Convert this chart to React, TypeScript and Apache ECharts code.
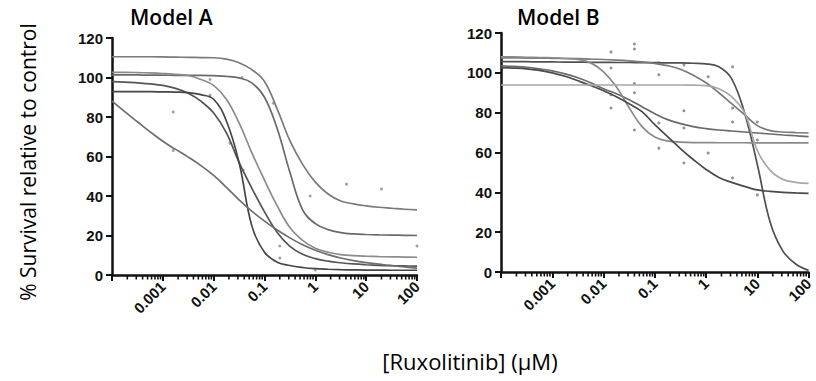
import React, { useEffect, useRef } from "react";
import * as echarts from "echarts";

// Concentrations (µM) at which the fitted curves were read: quarter-decade steps 1e-4 .. 1e2
const conc = [
  0.0001, 0.000178, 0.000316, 0.000562, 0.001, 0.00178, 0.00316, 0.00562, 0.01, 0.0178, 0.0316, 0.0562,
  0.1, 0.178, 0.316, 0.562, 1, 1.78, 3.16, 5.62, 10, 17.8, 31.6, 56.2, 100,
];

// Model A fitted curves (% survival)
const a1 = [110.5, 110.5, 110.5, 110.5, 110.4, 110.3, 110.2, 110.1, 110, 109.3, 107.5, 104, 98, 84, 68, 56, 47, 41, 37.5, 36, 35, 34.3, 33.8, 33.3, 33];
const a2 = [101.3, 101.3, 101.3, 101.2, 101.2, 101.1, 101.1, 101.1, 100.9, 100.6, 99.8, 97.3, 90, 74, 52, 33, 26, 23, 21.5, 20.8, 20.5, 20.3, 20.2, 20.1, 20];
const a3 = [102.6, 102.6, 102.5, 102.3, 102, 101.6, 101, 99, 96, 89, 77, 62, 48, 35, 24, 17.5, 13.5, 11.5, 10.3, 9.8, 9.5, 9.3, 9.2, 9.1, 9];
const a4 = [97.9, 97.7, 97.3, 96.8, 96, 94.5, 92, 88, 82, 72, 57, 44, 32, 21.5, 14.5, 10.5, 8.3, 7, 6.2, 5.6, 5.2, 4.9, 4.7, 4.6, 4.5];
const a5 = [92.8, 92.8, 92.8, 92.8, 92.7, 92.6, 92.3, 91.3, 89, 78, 57, 25, 11.5, 6.5, 4.8, 3.8, 3.2, 2.9, 2.7, 2.6, 2.5, 2.5, 2.4, 2.4, 2.4];
const a6 = [88, 82.7, 77.6, 72.5, 67.7, 63.6, 59.7, 55.4, 50.4, 44.4, 38, 32.3, 27.3, 22.8, 18.8, 15.3, 12.5, 10.3, 8.6, 7.3, 6.3, 5.5, 4.7, 4.1, 3.5];

// Model B fitted curves (% survival)
const b1 = [105.6, 105.6, 105.6, 105.5, 105.5, 105.4, 105.4, 105.3, 105.3, 105.2, 105.2, 105.1, 105.1, 105, 105, 104.8, 104.5, 103, 97, 80, 54, 25, 10.5, 4, 0.8];
const b2 = [107.5, 107.5, 107.4, 107.4, 107.3, 107.2, 107.1, 106.9, 106.7, 106.4, 106, 105.5, 104.7, 103.6, 101.8, 98.8, 95, 90, 84.5, 79, 73.5, 71, 70.3, 70, 69.8];
const b3 = [103.5, 103.2, 102.8, 102, 101, 99.5, 97.5, 95, 92, 89.5, 86.5, 83, 79.5, 76.5, 74.5, 73, 72, 71.3, 70.8, 70.3, 69.8, 69.3, 68.8, 68.4, 68];
const b4 = [108, 108, 107.8, 107.7, 107.5, 107.2, 106.8, 105, 100.5, 93, 82.5, 73, 67.8, 65.8, 65.2, 65, 65, 64.9, 64.9, 64.9, 64.8, 64.8, 64.8, 64.8, 64.8];
const b5 = [102.6, 102.4, 102, 101.2, 100, 98.3, 96, 93.6, 91, 88, 84.5, 80.5, 74, 68, 62, 56.5, 51.5, 47.5, 45, 43, 41.2, 40.5, 40, 39.7, 39.5];
const b6 = [93.9, 93.9, 93.9, 93.9, 93.9, 93.9, 93.9, 93.9, 93.9, 93.9, 93.9, 93.9, 93.9, 93.9, 93.9, 93.8, 93.6, 92, 88, 80, 61, 51, 46.5, 45, 44.5];

// Raw replicate points [conc µM, % survival]
const dotsA = [
  [0.0016, 82.5], [0.0016, 63], [0.0085, 99], [0.0085, 91], [0.021, 66.7], [0.036, 100], [0.038, 53],
  [0.15, 87], [0.2, 14.7], [0.2, 8.6], [0.79, 40], [1, 2.5], [4.1, 46], [20, 43.5], [100, 14.7],
];
const dotsB = [
  [0.014, 110.5], [0.014, 102.4], [0.014, 89], [0.014, 82.3], [0.04, 114.5], [0.04, 112], [0.04, 94.6], [0.04, 90], [0.04, 71.3],
  [0.12, 105], [0.12, 99], [0.12, 74.8], [0.12, 62.2], [0.37, 104], [0.37, 81], [0.37, 72.3], [0.37, 54.7],
  [1.1, 98], [1.1, 59.7], [3.3, 103], [3.3, 82.3], [3.3, 75.3], [3.3, 47.2], [10, 75.3], [10, 66.3], [10, 38.7],
];

const xTickLabels = ["0.001", "0.01", "0.1", "1", "10", "100"]; // decades 1e-3 .. 1e2
const yTicks = [0, 20, 40, 60, 80, 100, 120];

const curveColorsA = ["#7a7a7a", "#6a6a6a", "#8c8c8c", "#555555", "#454545", "#6e6e6e"];
const curveColorsB = ["#505050", "#7a7a7a", "#6a6a6a", "#8a8a8a", "#4a4a4a", "#a8a8a8"];

const lg = (c: number) => Math.log10(c);

export default function App() {
  const ref = useRef<HTMLDivElement>(null);
  useEffect(() => {
    const chart = echarts.init(ref.current!, undefined, { renderer: "svg" });

    const minorTicks: number[][] = [];
    for (let n = -4; n <= 1; n++) for (let k = 2; k <= 9; k++) minorTicks.push([Math.log10(k * Math.pow(10, n)), 0]);

    const tickFont = { fontFamily: "Liberation Sans, Arial", fontWeight: "bold" as const, fontSize: 15, color: "#111" };
    const mkX = (gridIndex: number) => ({
      type: "value" as const, gridIndex, min: -4, max: 2, interval: 1,
      axisLine: { onZero: false, lineStyle: { color: "#111", width: 2.5 } },
      axisTick: { length: 6, lineStyle: { color: "#111", width: 2 } },
      splitLine: { show: false },
      axisLabel: {
        ...tickFont, rotate: 45, margin: 9,
        formatter: (v: number) => (v >= -3 ? xTickLabels[Math.round(v) + 3] : ""),
      },
    });
    const mkY = (gridIndex: number) => ({
      type: "value" as const, gridIndex, min: yTicks[0], max: yTicks[yTicks.length - 1], interval: 20,
      axisLine: { show: true, onZero: false, lineStyle: { color: "#111", width: 2.5 } },
      axisTick: { show: true, length: 6, lineStyle: { color: "#111", width: 2 } },
      splitLine: { show: false },
      axisLabel: { ...tickFont, margin: 9 },
    });

    const curve = (vals: number[], color: string, idx: number) => ({
      type: "line" as const, xAxisIndex: idx, yAxisIndex: idx,
      data: conc.map((c, i) => [lg(c), vals[i]]),
      showSymbol: false, smooth: 0.4,
      lineStyle: { color, width: 1.7 }, silent: true,
    });
    const dots = (pts: number[][], idx: number, color: string) => ({
      type: "scatter" as const, xAxisIndex: idx, yAxisIndex: idx,
      data: pts.map((p) => [lg(p[0]), p[1]]), symbolSize: 3,
      itemStyle: { color }, silent: true,
    });
    const minor = (idx: number) => ({
      type: "custom" as const, xAxisIndex: idx, yAxisIndex: idx, data: minorTicks, clip: false, silent: true,
      renderItem: (_p: any, api: any) => {
        const pt = api.coord([api.value(0), 0]);
        return { type: "line", shape: { x1: pt[0], y1: pt[1], x2: pt[0], y2: pt[1] + 4.5 }, style: { stroke: "#111", lineWidth: 1.6 } };
      },
    });

    const titleFont = "Open Sans, Noto Sans, sans-serif";
    chart.setOption({
      animation: false,
      grid: [
        { left: 112, top: 38, width: 305, height: 237 },
        { left: 501, top: 33, width: 311, height: 239 },
      ],
      xAxis: [mkX(0), mkX(1)],
      yAxis: [mkY(0), mkY(1)],
      series: [
        ...[a1, a2, a3, a4, a5, a6].map((v, i) => curve(v, curveColorsA[i], 0)),
        ...[b1, b2, b3, b4, b5, b6].map((v, i) => curve(v, curveColorsB[i], 1)),
        dots(dotsA, 0, "#8a8a8a"), dots(dotsB, 1, "#777"), minor(0), minor(1),
      ],
      graphic: [
        { type: "text", left: 130, top: 6, style: { text: "Model A", font: `600 21px ${titleFont}`, fill: "#000" } },
        { type: "text", left: 517, top: 6, style: { text: "Model B", font: `600 21px ${titleFont}`, fill: "#000" } },
        {
          type: "text", x: 28, y: 162, rotation: Math.PI / 2,
          style: { text: "% Survival relative to control", font: `21px ${titleFont}`, fill: "#000", align: "center", verticalAlign: "middle" },
        },
        {
          type: "text", x: 470, y: 361,
          style: { text: "[Ruxolitinib] (μM)", font: `22px ${titleFont}`, fill: "#000", align: "center", verticalAlign: "middle" },
        },
      ],
    });
    return () => chart.dispose();
  }, []);
  return <div ref={ref} style={{ position: "fixed", left: 0, top: 0, width: 816, height: 381, background: "#fff" }} />;
}
